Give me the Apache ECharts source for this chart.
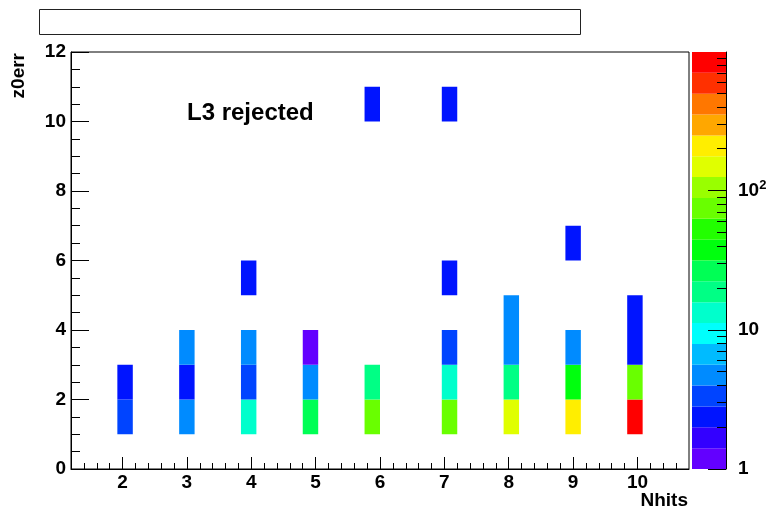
<!DOCTYPE html>
<html>
<head>
<meta charset="utf-8">
<script src="https://cdn.jsdelivr.net/npm/echarts@6/dist/echarts.min.js"></script>
<style>
  html, body { margin: 0; padding: 0; background: #fff; }
  #main { width: 776px; height: 517px; }
</style>
</head>
<body>
<div id="main"></div>
<script>
// histogram binning (Nhits axis 1.2 .. 10.8, 40 bins ; z0err 0 .. 12, 12 bins)
const xMin = 1.2, xMax = 10.8, xBinWidth = 0.24;
const yMin = 0, yMax = 12, yBinWidth = 1;
const zMax = 990; // top of the colour scale

// lower edge of the Nhits bin that holds each integer value 2..10
const nhitsBinLow = [1.92, 2.88, 3.84, 4.80, 5.76, 6.96, 7.92, 8.88, 9.84];

// [index in nhitsBinLow, z0err bin lower edge, entries]
const cells = [
    [0, 1, 3], [0, 2, 2],
    [1, 1, 5], [1, 2, 2], [1, 3, 5],
    [2, 1, 13], [2, 2, 3], [2, 3, 5], [2, 5, 2],
    [3, 1, 27], [3, 2, 5], [3, 3, 1],
    [4, 1, 75], [4, 2, 19], [4, 10, 2],
    [5, 1, 70], [5, 2, 13], [5, 3, 3], [5, 5, 2], [5, 10, 2],
    [6, 1, 150], [6, 2, 19], [6, 3, 5], [6, 4, 5],
    [7, 1, 210], [7, 2, 38], [7, 3, 5], [7, 6, 2],
    [8, 1, 860], [8, 2, 72], [8, 3, 2], [8, 4, 2]
];

// tick labels
const xLabels = [2, 3, 4, 5, 6, 7, 8, 9, 10];
const zLabelExp = [0, 1, 2];

// ROOT "pretty" palette, 20 contour levels (violet -> red)
const palette = ['#6300ff', '#3300ff', '#0014ff', '#0044ff', '#008bff', '#00bbff', '#00fffc',
    '#00ffcc', '#00ff85', '#00ff55', '#00ff0e', '#22ff00', '#69ff00', '#99ff00',
    '#e0ff00', '#ffee00', '#ffa700', '#ff7700', '#ff3000', '#ff0000'];

const logZMax = Math.log10(zMax);
const nLevels = palette.length;

function levelOf(count) {
    let j = Math.floor(nLevels * Math.log10(count) / logZMax);
    return Math.max(0, Math.min(nLevels - 1, j));
}

// minor ticks every 0.2 on Nhits
const xMinorTicks = [];
for (let v = 14; v <= 106; v += 2) {
    if (v % 10 !== 0) xMinorTicks.push(v / 10);
}
// minor ticks 2..9 per decade on the colour axis
const zMinorTicks = [];
for (let d = 0; d < 3; d++) {
    for (let k = 2; k <= 9; k++) {
        const lv = Math.log10(k * Math.pow(10, d));
        if (lv < logZMax) zMinorTicks.push(lv);
    }
}

const font = { fontFamily: 'Liberation Sans', fontWeight: 'bold', fontSize: 19, color: '#000' };
const black = { color: '#000', width: 1 };

const plotRect = { left: 71, top: 52, width: 618, height: 417 };
const barRect = { left: 692, top: 52, width: 34, height: 417 };

const cellData = cells.map(c => [nhitsBinLow[c[0]], c[1], c[2]]);
const bandData = palette.map((col, j) => [j * logZMax / nLevels, (j + 1) * logZMax / nLevels, j]);

const chart = echarts.init(document.getElementById('main'));

chart.setOption({
    animation: false,
    backgroundColor: '#fff',
    grid: [
        Object.assign({ show: true, borderColor: '#000', borderWidth: 1, backgroundColor: '#fff' }, plotRect),
        Object.assign({}, barRect),
        Object.assign({}, plotRect),
        Object.assign({}, barRect)
    ],
    xAxis: [
        {
            gridIndex: 0, type: 'value', min: xMin, max: xMax, position: 'bottom',
            axisLine: { show: true, onZero: false, lineStyle: black },
            axisTick: { show: true, inside: true, length: 12, lineStyle: black, customValues: xLabels },
            axisLabel: Object.assign({ customValues: xLabels, margin: 4 }, font),
            splitLine: { show: false }
        },
        { gridIndex: 1, type: 'value', min: 0, max: 1, show: false },
        {
            gridIndex: 2, type: 'value', min: xMin, max: xMax, position: 'bottom',
            axisLine: { show: false, onZero: false },
            axisTick: { show: true, inside: true, length: 6, lineStyle: black, customValues: xMinorTicks },
            axisLabel: { show: false },
            splitLine: { show: false }
        },
        { gridIndex: 3, type: 'value', min: 0, max: 1, show: false }
    ],
    yAxis: [
        {
            gridIndex: 0, type: 'value', min: yMin, max: yMax, interval: 2, position: 'left',
            axisLine: { show: true, onZero: false, lineStyle: black },
            axisTick: { show: true, inside: true, length: 18, lineStyle: black },
            minorTick: { show: true, splitNumber: 4, length: 9, lineStyle: black },
            axisLabel: Object.assign({ margin: 5 }, font),
            splitLine: { show: false }
        },
        {
            gridIndex: 1, type: 'value', min: 0, max: logZMax, position: 'right', z: 10,
            axisLine: { show: true, onZero: false, lineStyle: black },
            axisTick: { show: true, inside: true, length: 18, lineStyle: black, customValues: zLabelExp },
            axisLabel: Object.assign({
                customValues: zLabelExp,
                margin: 12,
                formatter: v => v === 0 ? '1' : (v === 1 ? '10' : '10{sup|' + v + '}'),
                rich: { sup: { fontFamily: 'Liberation Sans', fontWeight: 'bold', fontSize: 13, color: '#000', padding: [0, 0, 10, 0] } }
            }, font),
            splitLine: { show: false }
        },
        { gridIndex: 2, type: 'value', min: yMin, max: yMax, show: false },
        {
            gridIndex: 3, type: 'value', min: 0, max: logZMax, position: 'right', z: 10,
            axisLine: { show: false, onZero: false },
            axisTick: { show: true, inside: true, length: 9, lineStyle: black, customValues: zMinorTicks },
            axisLabel: { show: false },
            splitLine: { show: false }
        }
    ],
    series: [
        {
            type: 'custom',
            xAxisIndex: 0, yAxisIndex: 0,
            data: cellData,
            encode: { x: 0, y: 1 },
            renderItem: function (params, api) {
                const x0 = api.value(0), y0 = api.value(1);
                const p0 = api.coord([x0, y0]);
                const p1 = api.coord([x0 + xBinWidth, y0 + yBinWidth]);
                return {
                    type: 'rect',
                    shape: { x: p0[0], y: p1[1], width: p1[0] - p0[0], height: p0[1] - p1[1] },
                    style: { fill: palette[levelOf(api.value(2))] }
                };
            }
        },
        {
            type: 'custom',
            xAxisIndex: 1, yAxisIndex: 1,
            data: bandData,
            encode: { y: [0, 1] },
            renderItem: function (params, api) {
                const p0 = api.coord([0, api.value(0)]);
                const p1 = api.coord([1, api.value(1)]);
                return {
                    type: 'rect',
                    shape: { x: p0[0], y: p1[1], width: p1[0] - p0[0], height: p0[1] - p1[1] },
                    style: { fill: palette[api.value(2)] }
                };
            }
        }
    ],
    graphic: [
        {
            type: 'rect', z: 10,
            shape: { x: 39.5, y: 9.5, width: 541, height: 25 },
            style: { fill: '#fff', stroke: '#222', lineWidth: 1 }
        },
        {
            type: 'text', z: 10, x: 187, y: 113,
            style: { text: 'L3 rejected', font: 'bold 24px "Liberation Sans"', fill: '#000', verticalAlign: 'middle' }
        },
        {
            type: 'text', z: 10, x: 688, y: 501,
            style: { text: 'Nhits', font: 'bold 19px "Liberation Sans"', fill: '#000', align: 'right', verticalAlign: 'middle' }
        },
        {
            type: 'text', z: 10, x: 19, y: 53, rotation: Math.PI / 2,
            style: { text: 'z0err', font: 'bold 19px "Liberation Sans"', fill: '#000', align: 'right', verticalAlign: 'middle' }
        }
    ]
});
</script>
</body>
</html>
